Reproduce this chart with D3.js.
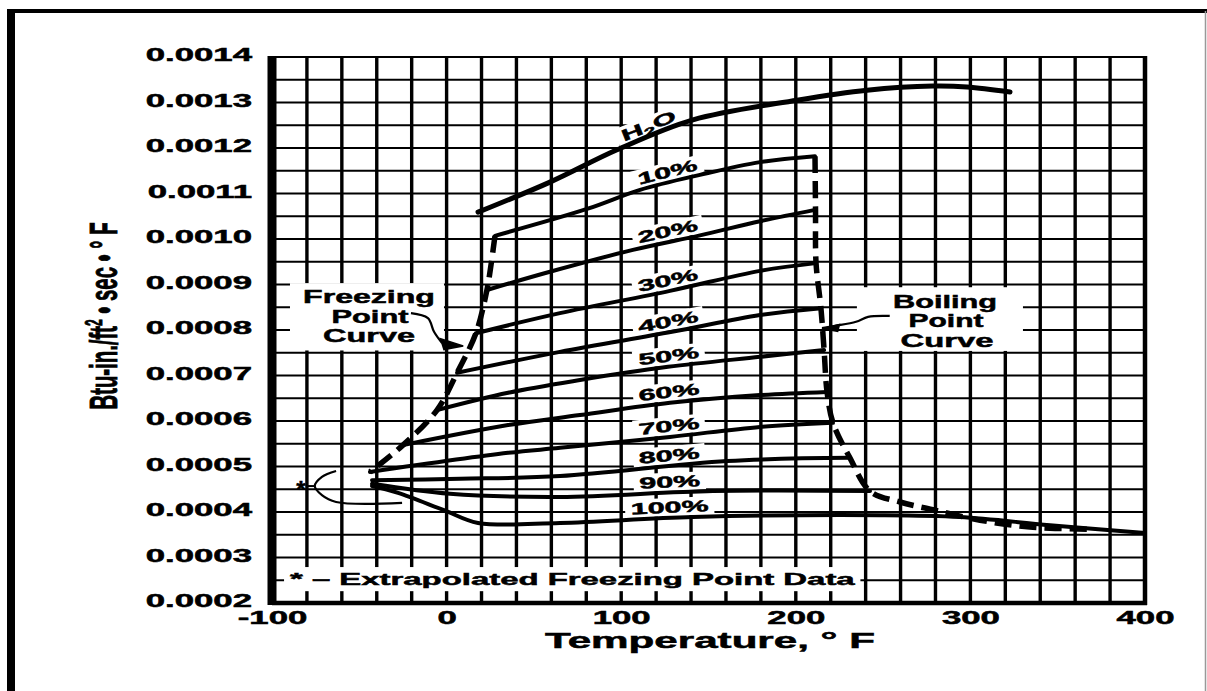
<!DOCTYPE html>
<html><head><meta charset="utf-8">
<script src="https://cdn.jsdelivr.net/npm/d3@7"></script>
<style>
html,body{margin:0;padding:0;background:#fff;}
svg{display:block;}
text{font-family:"Liberation Sans",Arial,Helvetica,sans-serif;font-weight:bold;fill:#000;stroke:#000;stroke-width:0.5px;}
</style></head><body>
<svg id="chart" width="1207" height="691"></svg>
<script>
// ---------------- data ----------------
const xTicks = [-100, 0, 100, 200, 300, 400];
const yTicks = [0.0002, 0.0003, 0.0004, 0.0005, 0.0006, 0.0007, 0.0008, 0.0009, 0.0010, 0.0011, 0.0012, 0.0013, 0.0014];
const xGridStep = 20;          // degrees F
const yGridStep = 0.00005;     // conductivity units

const seriesNames = ["H2O", "10%", "20%", "30%", "40%", "50%", "60%", "70%", "80%", "90%", "100%"];
const labelTemp   = [118, 128, 128, 128, 128, 128, 128, 128, 128, 128, 128];

const h2oTemp  = [18, 59.2, 97.6, 141.1, 200.7, 240.8, 278.6, 298.1, 322.7];
const h2oK     = [0.001059, 0.001125, 0.001196, 0.001262, 0.001305, 0.001327, 0.001336, 0.001334, 0.001323];
const pg10Temp = [27.7, 80.4, 110.8, 145.1, 179.5, 211];
const pg10K    = [0.001007, 0.001066, 0.001108, 0.001141, 0.001169, 0.001182];
const pg20Temp = [23.1, 59.2, 106.7, 145.1, 179.5, 211];
const pg20K    = [0.000888, 0.000928, 0.000976, 0.001008, 0.001039, 0.001064];
const pg30Temp = [16.8, 64.9, 127.9, 179.5, 211.5];
const pg30K    = [0.000793, 0.000837, 0.000886, 0.00093, 0.000947];
const pg40Temp = [6.0, 64.9, 129.1, 179.5, 214.4];
const pg40K    = [0.000706, 0.000752, 0.000796, 0.000833, 0.000848];
const pg50Temp = [-5.5, 35.2, 76.4, 126.8, 179.5, 216.2];
const pg50K    = [0.000624, 0.000662, 0.00069, 0.000719, 0.000741, 0.000756];
const pg60Temp = [-25.0, 35.2, 76.4, 127.9, 179.5, 217.9];
const pg60K    = [0.000547, 0.000591, 0.000613, 0.00064, 0.000657, 0.000664];
const pg70Temp = [-43.9, 35.2, 65.0, 127.9, 179.5, 221.3];
const pg70K    = [0.000488, 0.00053, 0.000541, 0.000565, 0.000587, 0.000596];
const pg80Temp = [-42.7, 7.7, 65.0, 160.6, 231.0];
const pg80K    = [0.00047, 0.000473, 0.000479, 0.000512, 0.000519];
const pg90Temp = [-42.7, 1.9, 65.0, 152.6, 242.5];
const pg90K    = [0.000462, 0.00044, 0.000433, 0.000446, 0.000446];
const pg100Temp = [-42.7, -27.8, -1.5, 18.0, 65.0, 141.1, 248.2, 294.0, 345.6, 400];
const pg100K    = [0.000457, 0.000442, 0.000404, 0.000376, 0.000376, 0.000389, 0.000393, 0.000389, 0.000371, 0.000354];

// freezing point (dashed) and boiling point (dashed) curves
const freezeTemp = [27.7, 25.5, 23.1, 16.8, 6.0, -5.5, -25.0, -43.9];
const freezeK    = [0.001007, 0.000945, 0.000888, 0.000793, 0.000706, 0.000624, 0.000547, 0.000488];
const boilTemp = [211, 211.3, 211.6, 214.4, 216.2, 217.9, 221.3, 231.0, 242.5, 259.7, 279.7, 305.5, 334.1, 368.5];
const boilK    = [0.001182, 0.001064, 0.000947, 0.000848, 0.000756, 0.000664, 0.000596, 0.000519, 0.000446, 0.000422, 0.000404, 0.000382, 0.000367, 0.000362];

// annotation geometry (data units)
const freezeBoxT = [-89.7, -1.5], freezeBoxK = [0.000755, 0.000903];
const boilBoxT   = [235.0, 330.1], boilBoxK   = [0.000754, 0.000894];
const noteBoxT   = [-93.1, 237.0], noteBoxK   = [0.000226, 0.000279];
const freezePtrT = [-20.4, -10.7, -7.2, -2.6];
const freezePtrK = [0.000837, 0.000826, 0.000796, 0.000771];
const boilPtrT   = [253.8, 241.4, 234.5, 222.5, 215.0];
const boilPtrK   = [0.000831, 0.000829, 0.000818, 0.000809, 0.000804];
const bracketT   = [-63.3, -71.4, -75.5, -71.4, -63.3, -25.5];
const bracketK   = [0.00049, 0.000477, 0.000457, 0.000437, 0.000422, 0.000420];

// ---------------- chart ----------------
const svg = d3.select("#chart");
svg.append("rect").attr("width", 1207).attr("height", 691).attr("fill", "#fff");

const x = d3.scaleLinear().domain([-100, 400]).range([272, 1145]);
const y = d3.scaleLinear().domain([0.0002, 0.0014]).range([603, 57]);

const xGrid = d3.range(-100, 400 + 1e-9, xGridStep);
const yGrid = d3.range(0, Math.round((0.0014 - 0.0002) / yGridStep) + 1).map(i => 0.0002 + i * yGridStep);

// grid
const gGrid = svg.append("g");
gGrid.selectAll("line.v").data(xGrid.filter(d => d > -100 && d < 400)).join("line")
  .attr("x1", d => x(d)).attr("x2", d => x(d)).attr("y1", y(0.0014)).attr("y2", y(0.0002))
  .attr("stroke", "#000").attr("stroke-width", 3.4);
gGrid.selectAll("line.h").data(yGrid.filter(d => d > 0.00021)).join("line")
  .attr("x1", x(-100)).attr("x2", x(400)).attr("y1", d => y(d)).attr("y2", d => y(d))
  .attr("stroke", "#000").attr("stroke-width", 2.2);

// white annotation boxes
function box(T, K) {
  svg.append("rect").attr("x", x(T[0])).attr("width", x(T[1]) - x(T[0]))
    .attr("y", y(K[1])).attr("height", y(K[0]) - y(K[1])).attr("fill", "#fff");
}
box(freezeBoxT, freezeBoxK);
box(boilBoxT, boilBoxK);
box(noteBoxT, noteBoxK);

// series table
const series = [
  [h2oTemp, h2oK], [pg10Temp, pg10K], [pg20Temp, pg20K], [pg30Temp, pg30K], [pg40Temp, pg40K],
  [pg50Temp, pg50K], [pg60Temp, pg60K], [pg70Temp, pg70K], [pg80Temp, pg80K], [pg90Temp, pg90K], [pg100Temp, pg100K]
].map((p, i) => ({ name: seriesNames[i], t: p[0], k: p[1], lt: labelTemp[i] }));

function interpK(ts, ks, t) {
  for (let i = 0; i < ts.length - 1; i++) {
    if (t >= ts[i] && t <= ts[i + 1]) { const f = (t - ts[i]) / (ts[i + 1] - ts[i]); return ks[i] + f * (ks[i + 1] - ks[i]); }
  }
  return ks[ks.length - 1];
}

const gLabBg = svg.append("g");
const gLines = svg.append("g");
const gLab = svg.append("g");
const SXL = 1.9;

const line = d3.line().x(d => x(d[0])).y(d => y(d[1])).curve(d3.curveCatmullRom.alpha(0.5));
series.forEach((s, i) => {
  gLines.append("path").attr("d", line(s.t.map((t, j) => [t, s.k[j]])))
    .attr("fill", "none").attr("stroke", "#000").attr("stroke-width", i === 0 ? 5 : 4)
    .attr("stroke-linecap", "round").attr("stroke-linejoin", "round");
});

// dashed freezing / boiling curves
[[freezeTemp, freezeK], [boilTemp, boilK]].forEach(p => {
  gLines.append("path").attr("d", line(p[0].map((t, j) => [t, p[1][j]])))
    .attr("fill", "none").attr("stroke", "#000").attr("stroke-width", 5.5)
    .attr("stroke-dasharray", "17,8");
});

// curve labels
series.forEach(s => {
  const t0 = s.lt;
  const xa = x(t0 - 12), ya = y(interpK(s.t, s.k, t0 - 12));
  const xb = x(t0 + 12), yb = y(interpK(s.t, s.k, t0 + 12));
  const ang = Math.atan2(yb - ya, xb - xa);
  const px = x(t0), py = y(interpK(s.t, s.k, t0));
  const off = 11;
  const cx = px + Math.sin(ang) * off, cy = py - Math.cos(ang) * off;
  const tr = `translate(${cx},${cy}) rotate(${ang * 180 / Math.PI}) scale(${SXL},1)`;
  const gb = gLabBg.append("g").attr("transform", tr);
  const g = gLab.append("g").attr("transform", tr);
  const txt = g.append("text").attr("text-anchor", "middle").attr("dy", "0.36em").style("font-size", "16px");
  if (s.name === "H2O") {
    txt.append("tspan").text("H");
    txt.append("tspan").attr("dy", 4).style("font-size", "11px").text("2");
    txt.append("tspan").attr("dy", -4).text("O");
  } else {
    txt.text(s.name);
  }
  const w = txt.node().getComputedTextLength();
  gb.append("rect").attr("x", -w / 2 - 3).attr("width", w + 6).attr("y", -9).attr("height", 18).attr("fill", "#fff");
});

// pointers & bracket
const lin = d3.line().x(d => x(d[0])).y(d => y(d[1])).curve(d3.curveCatmullRom.alpha(0.5));
svg.append("path").attr("d", lin(freezePtrT.map((t, i) => [t, freezePtrK[i]])))
  .attr("fill", "none").attr("stroke", "#000").attr("stroke-width", 2.2);
svg.append("path")
  .attr("d", `M${x(-3.5)},${y(0.000781)}L${x(9.5)},${y(0.000765)}L${x(-1.5)},${y(0.000757)}Z`)
  .attr("fill", "#000").attr("stroke", "#000").attr("stroke-width", 1.5);
svg.append("path").attr("d", lin(boilPtrT.map((t, i) => [t, boilPtrK[i]])))
  .attr("fill", "none").attr("stroke", "#000").attr("stroke-width", 2.2);
svg.append("path")
  .attr("d", `M${x(225)},${y(0.000812)}L${x(215)},${y(0.000803)}L${x(224)},${y(0.000797)}Z`)
  .attr("fill", "#000").attr("stroke", "#000").attr("stroke-width", 1.5);
svg.append("path").attr("d", lin(bracketT.map((t, i) => [t, bracketK[i]])))
  .attr("fill", "none").attr("stroke", "#000").attr("stroke-width", 2.2);
svg.append("line").attr("x1", x(-80)).attr("x2", x(-75.5)).attr("y1", y(0.000457)).attr("y2", y(0.000457))
  .attr("stroke", "#000").attr("stroke-width", 2);
svg.append("text").attr("x", x(-83.5)).attr("y", y(0.000457) + 12).attr("text-anchor", "middle")
  .style("font-size", "24px").text("*");

// text helper: fit to target width by horizontal stretch
function fitText(cx, by, str, size, anchor, targetW) {
  const t = svg.append("text").style("font-size", size + "px").attr("text-anchor", anchor).text(str);
  const w = t.node().getComputedTextLength();
  t.attr("transform", `translate(${cx},${by}) scale(${targetW / w},1)`);
  return t;
}

// box texts
fitText(369, 303, "Freezing", 19, "middle", 132);
fitText(370, 323, "Point", 19, "middle", 77);
fitText(369, 342, "Curve", 19, "middle", 92);
fitText(945, 308, "Boiling", 19, "middle", 104);
fitText(946, 327, "Point", 19, "middle", 75);
fitText(947, 347, "Curve", 19, "middle", 93);
fitText(290, 585, "* \u2013 Extrapolated Freezing Point Data", 17, "start", 565);

// axes
const SXA = 1.93;
const gy = svg.append("g").attr("transform", `translate(${x(-100)},0)`)
  .call(d3.axisLeft(y).tickValues(yTicks).tickSize(0).tickPadding(20).tickFormat(d3.format(".4f")));
gy.select(".domain").remove();
gy.selectAll("text").style("font-size", "18px").style("font-family", null)
  .each(function () { const t = d3.select(this); t.attr("x", +t.attr("x") / SXA).attr("y", -2).attr("transform", `scale(${SXA},1)`); });

const gx = svg.append("g").attr("transform", `translate(0,${y(0.0002)})`)
  .call(d3.axisBottom(x).tickValues(xTicks).tickSize(0).tickPadding(8).tickFormat(d => d < 0 ? "-" + (-d) : String(d)));
gx.select(".domain").remove();
gx.selectAll("text").style("font-size", "18px").style("font-family", null)
  .attr("x", 0).attr("transform", `scale(${SXA},1)`);

// axis titles
fitText(710, 648, "Temperature, \u00B0 F", 22, "middle", 330);
const gyt = svg.append("g").attr("transform", "translate(103,316) scale(1.8,1) rotate(-90)");
const yt = gyt.append("text").attr("text-anchor", "middle").attr("dy", "0.35em").style("font-size", "22px");
yt.append("tspan").text("Btu-in./ft");
yt.append("tspan").attr("dy", -8).style("font-size", "13px").text("2");
yt.append("tspan").attr("dy", 8).text(" \u2022 sec \u2022 \u00B0 F");
const L = yt.node().getComputedTextLength();
yt.attr("transform", `scale(${187 / L},1)`);

// plot borders
svg.append("line").attr("x1", x(-100)).attr("x2", x(400)).attr("y1", y(0.0014)).attr("y2", y(0.0014)).attr("stroke", "#000").attr("stroke-width", 2);
svg.append("line").attr("x1", x(-100)).attr("x2", x(400) + 2).attr("y1", y(0.0002)).attr("y2", y(0.0002)).attr("stroke", "#000").attr("stroke-width", 4.5);
svg.append("line").attr("x1", x(-100)).attr("x2", x(-100)).attr("y1", y(0.0014) - 1).attr("y2", y(0.0002) + 2).attr("stroke", "#000").attr("stroke-width", 9);
svg.append("line").attr("x1", x(400)).attr("x2", x(400)).attr("y1", y(0.0014) - 1).attr("y2", y(0.0002) + 2).attr("stroke", "#000").attr("stroke-width", 4.5);

// outer frame
svg.append("line").attr("x1", 11).attr("x2", 11).attr("y1", 9).attr("y2", 691).attr("stroke", "#000").attr("stroke-width", 8);
svg.append("line").attr("x1", 7).attr("x2", 1207).attr("y1", 11).attr("y2", 11).attr("stroke", "#000").attr("stroke-width", 4);
svg.append("line").attr("x1", 1205.5).attr("x2", 1205.5).attr("y1", 11).attr("y2", 691).attr("stroke", "#999").attr("stroke-width", 1.5);
</script>
</body></html>
